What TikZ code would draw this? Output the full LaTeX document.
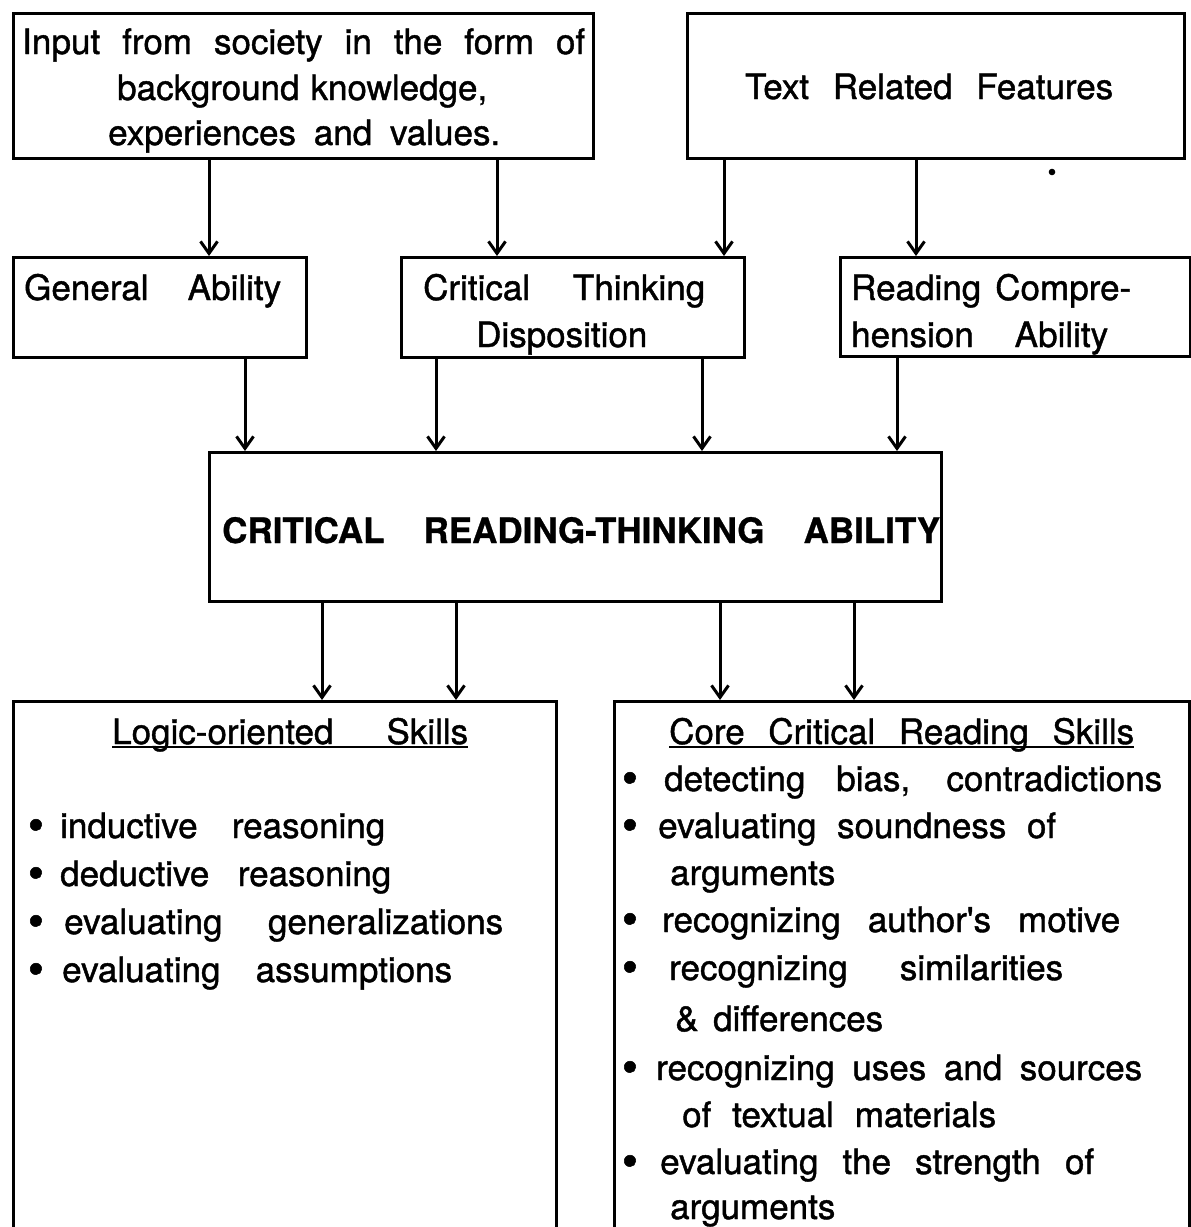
\documentclass[tikz,border=0pt]{standalone}
\usepackage{fontspec}
\setmainfont{TeX Gyre Heros}[FakeBold=0.8]
\newfontfamily\heavyfont{TeX Gyre Heros}[FakeBold=1.2]
\usetikzlibrary{arrows.meta}
\begin{document}
\begin{tikzpicture}[x=1pt,y=-1pt,
  box/.style={draw,line width=3pt,rectangle,inner sep=0pt,anchor=north west},
  lbl/.style={anchor=base west,inner sep=0pt,font=\fontsize{35}{40}\heavyfont},
  bul/.style={anchor=center,inner sep=0pt,font=\fontsize{46}{40}\heavyfont},
  arr/.style={line width=3pt,-{Straight Barb[length=12pt,width=17pt,line width=3pt]}},
  uline/.style={line width=2.2pt},
]
\useasboundingbox (0,0) rectangle (1191,1227);
\clip (0,0) rectangle (1191,1227);

% ---- boxes ----
\node[box,minimum width=580pt,minimum height=145pt] (input) at (12,12) {};
\node[box,minimum width=497pt,minimum height=145pt] (trf) at (686,12) {};
\node[box,minimum width=293pt,minimum height=100pt] (ga) at (12,256) {};
\node[box,minimum width=343pt,minimum height=100pt] (ctd) at (400,256) {};
\node[box,minimum width=350pt,minimum height=99pt] (rca) at (839,256) {};
\node[box,minimum width=732pt,minimum height=149pt] (crt) at (208,451) {};
\node[box,minimum width=543pt,minimum height=600pt] (logic) at (12,700) {};
\node[box,minimum width=575pt,minimum height=600pt] (core) at (613,700) {};

% stray dot beside the features box
\fill (1052,172) circle (3.3pt);

% ---- box texts ----
\node[lbl] (in1) at (22,54) {\makebox[563pt][s]{Input from society in the form of}};
\node[lbl] (in2) at (117,100) {\makebox[370pt][s]{background knowledge,}};
\node[lbl] (in3) at (108,145) {\makebox[392pt][s]{experiences and values.}};
\node[lbl] (tr1) at (745,99) {\makebox[368pt][s]{Text Related Features}};
\node[lbl] (ga1) at (24,300) {\makebox[257pt][s]{General Ability}};
\node[lbl] (ct1) at (423,300) {\makebox[282pt][s]{Critical Thinking}};
\node[lbl] (ct2) at (476,347) {Disposition};
\node[lbl] (rc1) at (851,300) {\makebox[280pt][s]{Reading Compre-}};
\node[lbl] (rc2) at (851,347) {\makebox[257pt][s]{hension Ability}};
\node[lbl,font=\fontsize{35}{40}\selectfont\bfseries] (crt1) at (222,543)
  {\makebox[718pt][s]{CRITICAL READING-THINKING ABILITY}};

% ---- left list ----
\node[lbl] (lt) at (112,744) {\makebox[356pt][s]{Logic-oriented Skills}};
\draw[uline] ([yshift=-3pt]lt.base west) -- ([yshift=-3pt]lt.base east);
\foreach \n/\y in {b1/838,b2/886,b3/934,b4/982}
  \node[bul] (l\n) at (36,\y-8) {•};
\node[lbl] (l1) at (60,838) {\makebox[325pt][s]{inductive reasoning}};
\node[lbl] (l2) at (60,886) {\makebox[331pt][s]{deductive reasoning}};
\node[lbl] (l3) at (64,934) {\makebox[439pt][s]{evaluating generalizations}};
\node[lbl] (l4) at (62,982) {\makebox[390pt][s]{evaluating assumptions}};

% ---- right list ----
\node[lbl] (rt) at (669,744) {\makebox[465pt][s]{Core Critical Reading Skills}};
\draw[uline] ([yshift=-3pt]rt.base west) -- ([yshift=-3pt]rt.base east);
\foreach \n/\y in {b1/791,b2/838,b3/932,b4/980,b5/1080,b6/1174}
  \node[bul] (r\n) at (630,\y-8) {•};
\node[lbl] (r1) at (664,791) {\makebox[498pt][s]{detecting bias, contradictions}};
\node[lbl] (r2) at (658,838) {\makebox[398pt][s]{evaluating soundness of}};
\node[lbl] (r2b) at (670,885) {arguments};
\node[lbl] (r3) at (662,932) {\makebox[458pt][s]{recognizing author\textquotesingle s motive}};
\node[lbl] (r4) at (669,980) {\makebox[394pt][s]{recognizing similarities}};
\node[lbl] (r4b) at (675,1031) {\makebox[208pt][s]{\& differences}};
\node[lbl] (r5) at (656,1080) {\makebox[486pt][s]{recognizing uses and sources}};
\node[lbl] (r5b) at (682,1127) {\makebox[314pt][s]{of textual materials}};
\node[lbl] (r6) at (660,1174) {\makebox[434pt][s]{evaluating the strength of}};
\node[lbl] (r6b) at (670,1219) {arguments};

% ---- connector columns ----
\coordinate (c1) at (209,0);
\coordinate (c2) at (497,0);
\coordinate (c3) at (724,0);
\coordinate (c4) at (916,0);
\coordinate (c5) at (245,0);
\coordinate (c6) at (436,0);
\coordinate (c7) at (702,0);
\coordinate (c8) at (897,0);
\coordinate (c9) at (322,0);
\coordinate (c10) at (456,0);
\coordinate (c11) at (720,0);
\coordinate (c12) at (854,0);

% ---- connectors ----
\draw[arr] (input.south -| c1) -- (ga.north -| c1);
\draw[arr] (input.south -| c2) -- (ctd.north -| c2);
\draw[arr] (trf.south -| c3) -- (ctd.north -| c3);
\draw[arr] (trf.south -| c4) -- (rca.north -| c4);
\draw[arr] (ga.south -| c5) -- (crt.north -| c5);
\draw[arr] (ctd.south -| c6) -- (crt.north -| c6);
\draw[arr] (ctd.south -| c7) -- (crt.north -| c7);
\draw[arr] (rca.south -| c8) -- (crt.north -| c8);
\draw[arr] (crt.south -| c9) -- (logic.north -| c9);
\draw[arr] (crt.south -| c10) -- (logic.north -| c10);
\draw[arr] (crt.south -| c11) -- (core.north -| c11);
\draw[arr] (crt.south -| c12) -- (core.north -| c12);
\end{tikzpicture}
\end{document}
